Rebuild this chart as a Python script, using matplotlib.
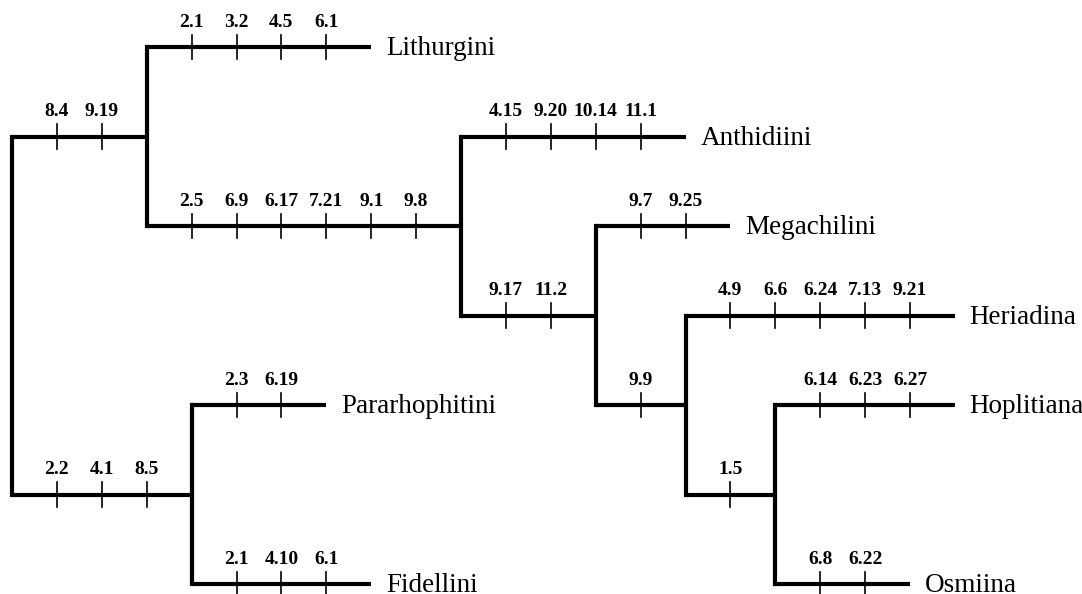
import matplotlib.pyplot as plt

# tree layout in grid units: each branch is (row, start col, end col)
branch_rows = [1, 0, 2, 1, 3, 2, 4, 3, 5, 4, 6, 5, 4, 6]
branch_starts = [0, 3, 3, 10, 10, 13, 13, 15, 15, 17, 17, 0, 4, 4]
branch_ends = [3, 8, 10, 15, 13, 16, 15, 21, 17, 21, 20, 4, 7, 8]
branch_chars = [
    ['8.4', '9.19'],
    ['2.1', '3.2', '4.5', '6.1'],
    ['2.5', '6.9', '6.17', '7.21', '9.1', '9.8'],
    ['4.15', '9.20', '10.14', '11.1'],
    ['9.17', '11.2'],
    ['9.7', '9.25'],
    ['9.9'],
    ['4.9', '6.6', '6.24', '7.13', '9.21'],
    ['1.5'],
    ['6.14', '6.23', '6.27'],
    ['6.8', '6.22'],
    ['2.2', '4.1', '8.5'],
    ['2.3', '6.19'],
    ['2.1', '4.10', '6.1'],
]
branch_taxa = [None, 'Lithurgini', None, 'Anthidiini', None, 'Megachilini', None,
               'Heriadina', None, 'Hoplitiana', 'Osmiina', None, 'Pararhophitini',
               'Fidellini']

# vertical connectors: (col, row top, row bottom)
node_cols = [0, 3, 10, 13, 15, 17, 4]
node_tops = [1, 0, 1, 2, 3, 4, 4]
node_bottoms = [5, 2, 3, 4, 5, 6, 6]

fig = plt.figure(figsize=(10.82, 5.94), dpi=100)
ax = fig.add_axes([0, 0, 1, 1])
ux, uy = 44.9, 89.5
ax.set_xlim(-12 / ux, (1082 - 12) / ux)
ax.set_ylim((594 - 47) / uy, -47 / uy)
ax.axis('off')

lw = 3.0
for c, t, b in zip(node_cols, node_tops, node_bottoms):
    ax.plot([c, c], [t, b], color='black', lw=lw, solid_capstyle='projecting')

for row, s, e, chars, taxon in zip(branch_rows, branch_starts, branch_ends,
                                   branch_chars, branch_taxa):
    ax.plot([s, e], [row, row], color='black', lw=lw, solid_capstyle='butt')
    for i, ch in enumerate(chars):
        x = s + 1 + i
        ax.plot([x, x], [row - 0.135, row + 0.135], color='black', lw=1.2)
        ax.text(x, row - 0.18, ch, ha='center', va='bottom', fontsize=14,
                fontweight='bold', family='Liberation Serif')
    if taxon:
        ax.text(e + 0.33, row + 0.02, taxon, ha='left', va='center', fontsize=19.5,
                family='Liberation Serif')

fig.savefig('out.png', dpi=100)
